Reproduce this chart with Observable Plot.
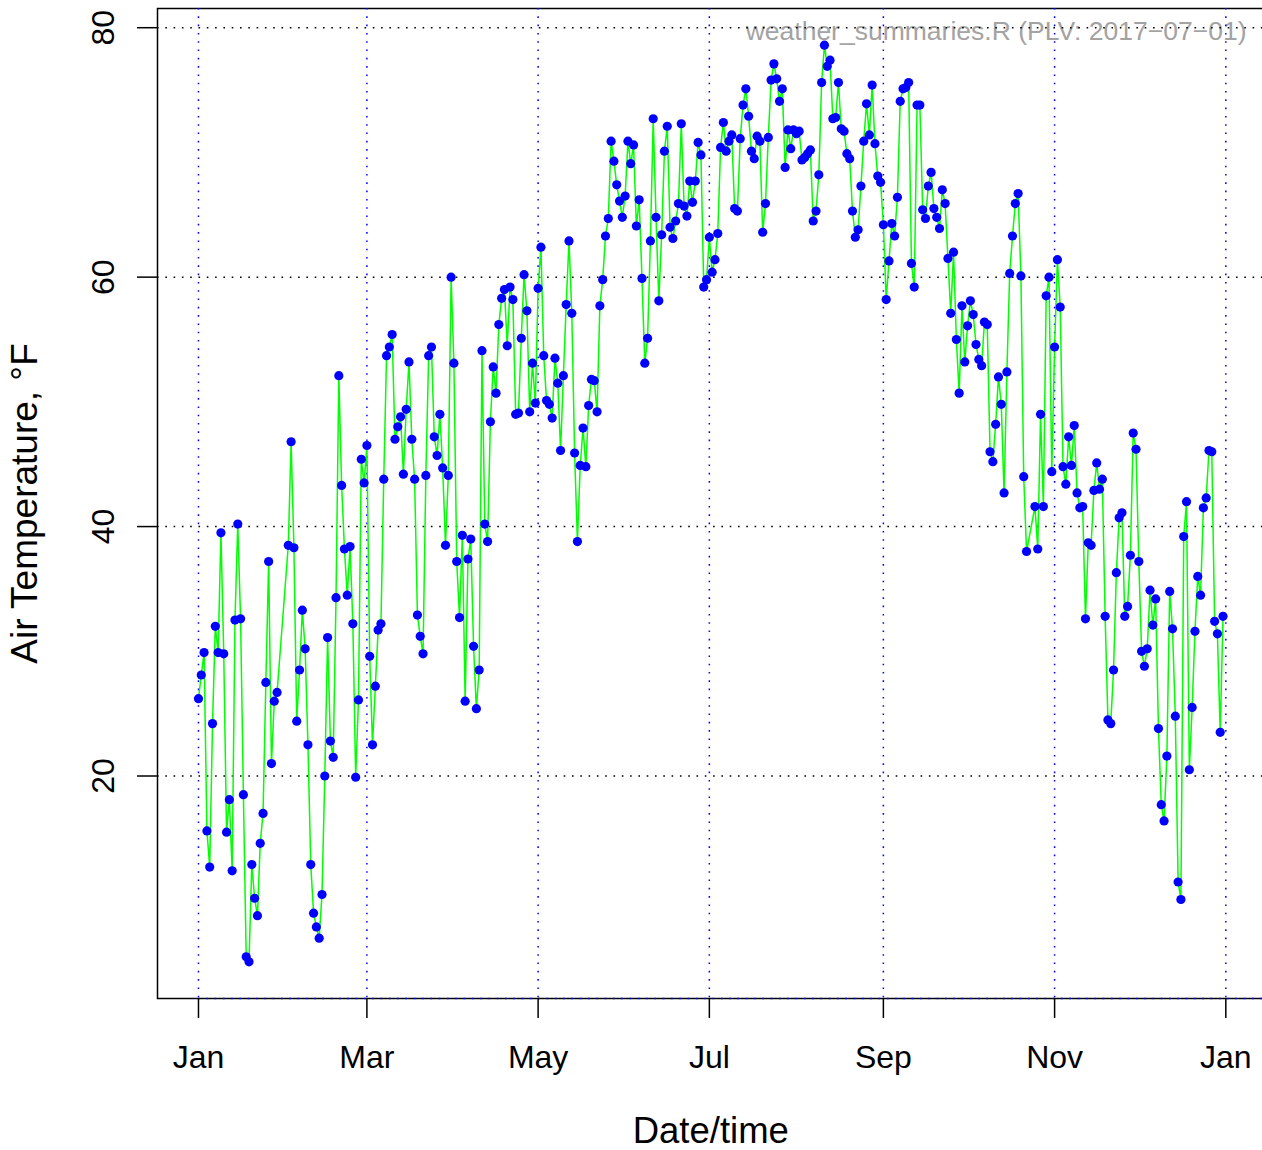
<!DOCTYPE html>
<html>
<head>
<meta charset="utf-8">
<script src="https://cdn.jsdelivr.net/npm/d3@7"></script>
<script src="https://cdn.jsdelivr.net/npm/@observablehq/plot@0.6"></script>
<style>
  html, body { margin: 0; padding: 0; background: #ffffff; }
</style>
</head>
<body>
<div id="chart"></div>
<script>
// ---- data (daily mean air temperature, °F; index = day of year 2016, null = no record) ----
const year = 2016;
const temps = [
  26.2, 28.1, 29.9, 15.6, 12.7, 24.2, 32.0, 29.9, 39.5, 29.8,
  15.5, 18.1, 12.4, 32.5, 40.2, 32.6, 18.5, 5.5, 5.1, 12.9,
  10.2, 8.8, 14.6, 17.0, 27.5, 37.2, 21.0, 26.0, 26.7, null,
  null, null, 38.5, 46.8, 38.3, 24.4, 28.5, 33.3, 30.2, 22.5,
  12.9, 9.0, 7.9, 7.0, 10.5, 20.0, 31.1, 22.8, 21.5, 34.3,
  52.1, 43.3, 38.2, 34.5, 38.4, 32.2, 19.9, 26.1, 45.4, 43.5,
  46.5, 29.6, 22.5, 27.2, 31.7, 32.2, 43.8, 53.7, 54.4, 55.4,
  47.0, 48.0, 48.8, 44.2, 49.4, 53.2, 47.0, 43.8, 32.9, 31.2,
  29.8, 44.1, 53.7, 54.4, 47.2, 45.7, 49.0, 44.7, 38.5, 44.1,
  60.0, 53.1, 37.2, 32.7, 39.3, 26.0, 37.4, 39.0, 30.4, 25.4,
  28.5, 54.1, 40.2, 38.8, 48.4, 52.8, 50.7, 56.2, 58.3, 59.0,
  54.5, 59.2, 58.2, 49.0, 49.1, 55.1, 60.2, 57.3, 49.2, 53.1,
  49.9, 59.1, 62.4, 53.7, 50.1, 49.8, 48.7, 53.5, 51.5, 46.1,
  52.1, 57.8, 62.9, 57.1, 45.9, 38.8, 44.9, 47.9, 44.8, 49.7,
  51.8, 51.7, 49.2, 57.7, 59.8, 63.3, 64.7, 70.9, 69.3, 67.4,
  66.1, 64.8, 66.5, 70.9, 69.1, 70.6, 64.1, 66.2, 59.9, 53.1,
  55.1, 62.9, 72.7, 64.8, 58.1, 63.4, 70.1, 72.1, 64.0, 63.1,
  64.5, 65.9, 72.3, 65.7, 64.9, 67.7, 66.0, 67.7, 70.8, 69.8,
  59.2, 59.8, 63.2, 60.4, 61.4, 63.5, 70.4, 72.4, 70.1, 70.9,
  71.4, 65.5, 65.3, 71.1, 73.8, 75.1, 72.9, 70.1, 69.5, 71.3,
  70.9, 63.6, 65.9, 71.2, 75.8, 77.1, 75.9, 74.1, 75.1, 68.8,
  71.8, 70.3, 71.8, 71.5, 71.7, 69.4, 69.6, 69.9, 70.2, 64.5,
  65.3, 68.2, 75.6, 78.6, 76.9, 77.4, 72.7, 72.8, 75.6, 71.9,
  71.7, 69.9, 69.5, 65.3, 63.2, 63.8, 67.3, 70.9, 73.9, 71.4,
  75.4, 70.7, 68.1, 67.6, 64.2, 58.2, 61.3, 64.3, 63.3, 66.4,
  74.1, 75.1, 75.2, 75.6, 61.1, 59.2, 73.8, 73.8, 65.4, 64.7,
  67.3, 68.4, 65.5, 64.8, 63.9, 67.0, 65.9, 61.5, 57.1, 62.0,
  55.0, 50.7, 57.7, 53.2, 56.1, 58.1, 57.0, 54.6, 53.4, 52.9,
  56.4, 56.2, 46.0, 45.2, 48.2, 52.0, 49.8, 42.7, 52.4, 60.3,
  63.3, 65.9, 66.7, 60.1, 44.0, 38.0, null, null, 41.6, 38.2,
  49.0, 41.6, 58.5, 60.0, 44.4, 54.4, 61.4, 57.6, 44.8, 43.4,
  47.2, 44.9, 48.1, 42.7, 41.5, 41.6, 32.6, 38.7, 38.5, 42.9,
  45.1, 43.0, 43.8, 32.8, 24.5, 24.2, 28.5, 36.3, 40.7, 41.1,
  32.8, 33.6, 37.7, 47.5, 46.2, 37.2, 30.0, 28.8, 30.2, 34.9,
  32.1, 34.2, 23.8, 17.7, 16.4, 21.6, 34.8, 31.8, 24.8, 11.5,
  10.1, 39.2, 42.0, 20.5, 25.5, 31.6, 36.0, 34.5, 41.5, 42.3,
  46.1, 46.0, 32.4, 31.4, 23.5, 32.8
];
const xTickDates = ["2016-01-01", "2016-03-01", "2016-05-01", "2016-07-01", "2016-09-01", "2016-11-01", "2017-01-01"];
const yTicks = [20, 40, 60, 80];
const xLabel = "Date/time";
const yLabel = "Air Temperature, °F";
const stamp = "weather_summaries.R (PLV: 2017\u221207\u221201)";

// ---- derived table ----
const data = temps
  .map((t, i) => ({date: new Date(Date.UTC(year, 0, 1 + i)), temp: t}))
  .filter(d => d.temp != null);
const xExt = d3.extent(data, d => d.date);
const xSpan = xExt[1] - xExt[0];
const xDomain = [new Date(+xExt[0] - 0.04 * xSpan), new Date(+xExt[1] + 0.04 * xSpan)];
const yExt = d3.extent(data, d => d.temp);
const ySpan = yExt[1] - yExt[0];
const yDomain = [yExt[0] - 0.04 * ySpan, yExt[1] + 0.04 * ySpan];
const tickDates = xTickDates.map(s => new Date(s + "T00:00:00Z"));

const font = "'Liberation Sans', Arial, Helvetica, sans-serif";
const dots = "1.6,6.7";

const chart = Plot.plot({
  width: 1262,
  height: 1150,
  marginLeft: 157,
  marginRight: -1.5,
  marginTop: 8,
  marginBottom: 152,
  style: {fontFamily: font, background: "#ffffff", color: "#000000"},
  x: {type: "utc", domain: xDomain},
  y: {domain: yDomain},
  marks: [
    Plot.text([stamp], {frameAnchor: "top-right", dx: -17.5, dy: 31, textAnchor: "end", lineAnchor: "bottom", fill: "#a3a3a3", fontSize: 26.5}),
    Plot.frame({stroke: "#000000", strokeWidth: 1.5}),
    Plot.ruleY(yTicks, {stroke: "#000000", strokeWidth: 1.5, strokeDasharray: dots}),
    Plot.ruleX(tickDates, {stroke: "#0000ff", strokeWidth: 1.5, strokeDasharray: dots}),
    Plot.ruleY([yDomain[0]], {x1: tickDates[0], x2: xDomain[1], stroke: "#0000ff", strokeWidth: 1.5, strokeDasharray: dots}),
    Plot.line(data, {x: "date", y: "temp", stroke: "#00ff00", strokeWidth: 1.5}),
    Plot.dot(data, {x: "date", y: "temp", r: 4.6, fill: "#0000ff", stroke: null}),
    Plot.axisX(tickDates, {tickSize: 20, tickPadding: 27, fontSize: 32, tickFormat: d3.utcFormat("%b"), label: null, strokeWidth: 1.5}),
    Plot.axisY(yTicks, {tickSize: 20, tickPadding: 24, tickRotate: -90, fontSize: 32, label: null, strokeWidth: 1.5}),
    Plot.text([xLabel], {frameAnchor: "bottom", dy: 144, lineAnchor: "bottom", fontSize: 36.5}),
    Plot.text([yLabel], {frameAnchor: "left", dx: -121, rotate: -90, textAnchor: "middle", lineAnchor: "bottom", fontSize: 37})
  ]
});
document.getElementById("chart").appendChild(chart);
</script>
</body>
</html>
